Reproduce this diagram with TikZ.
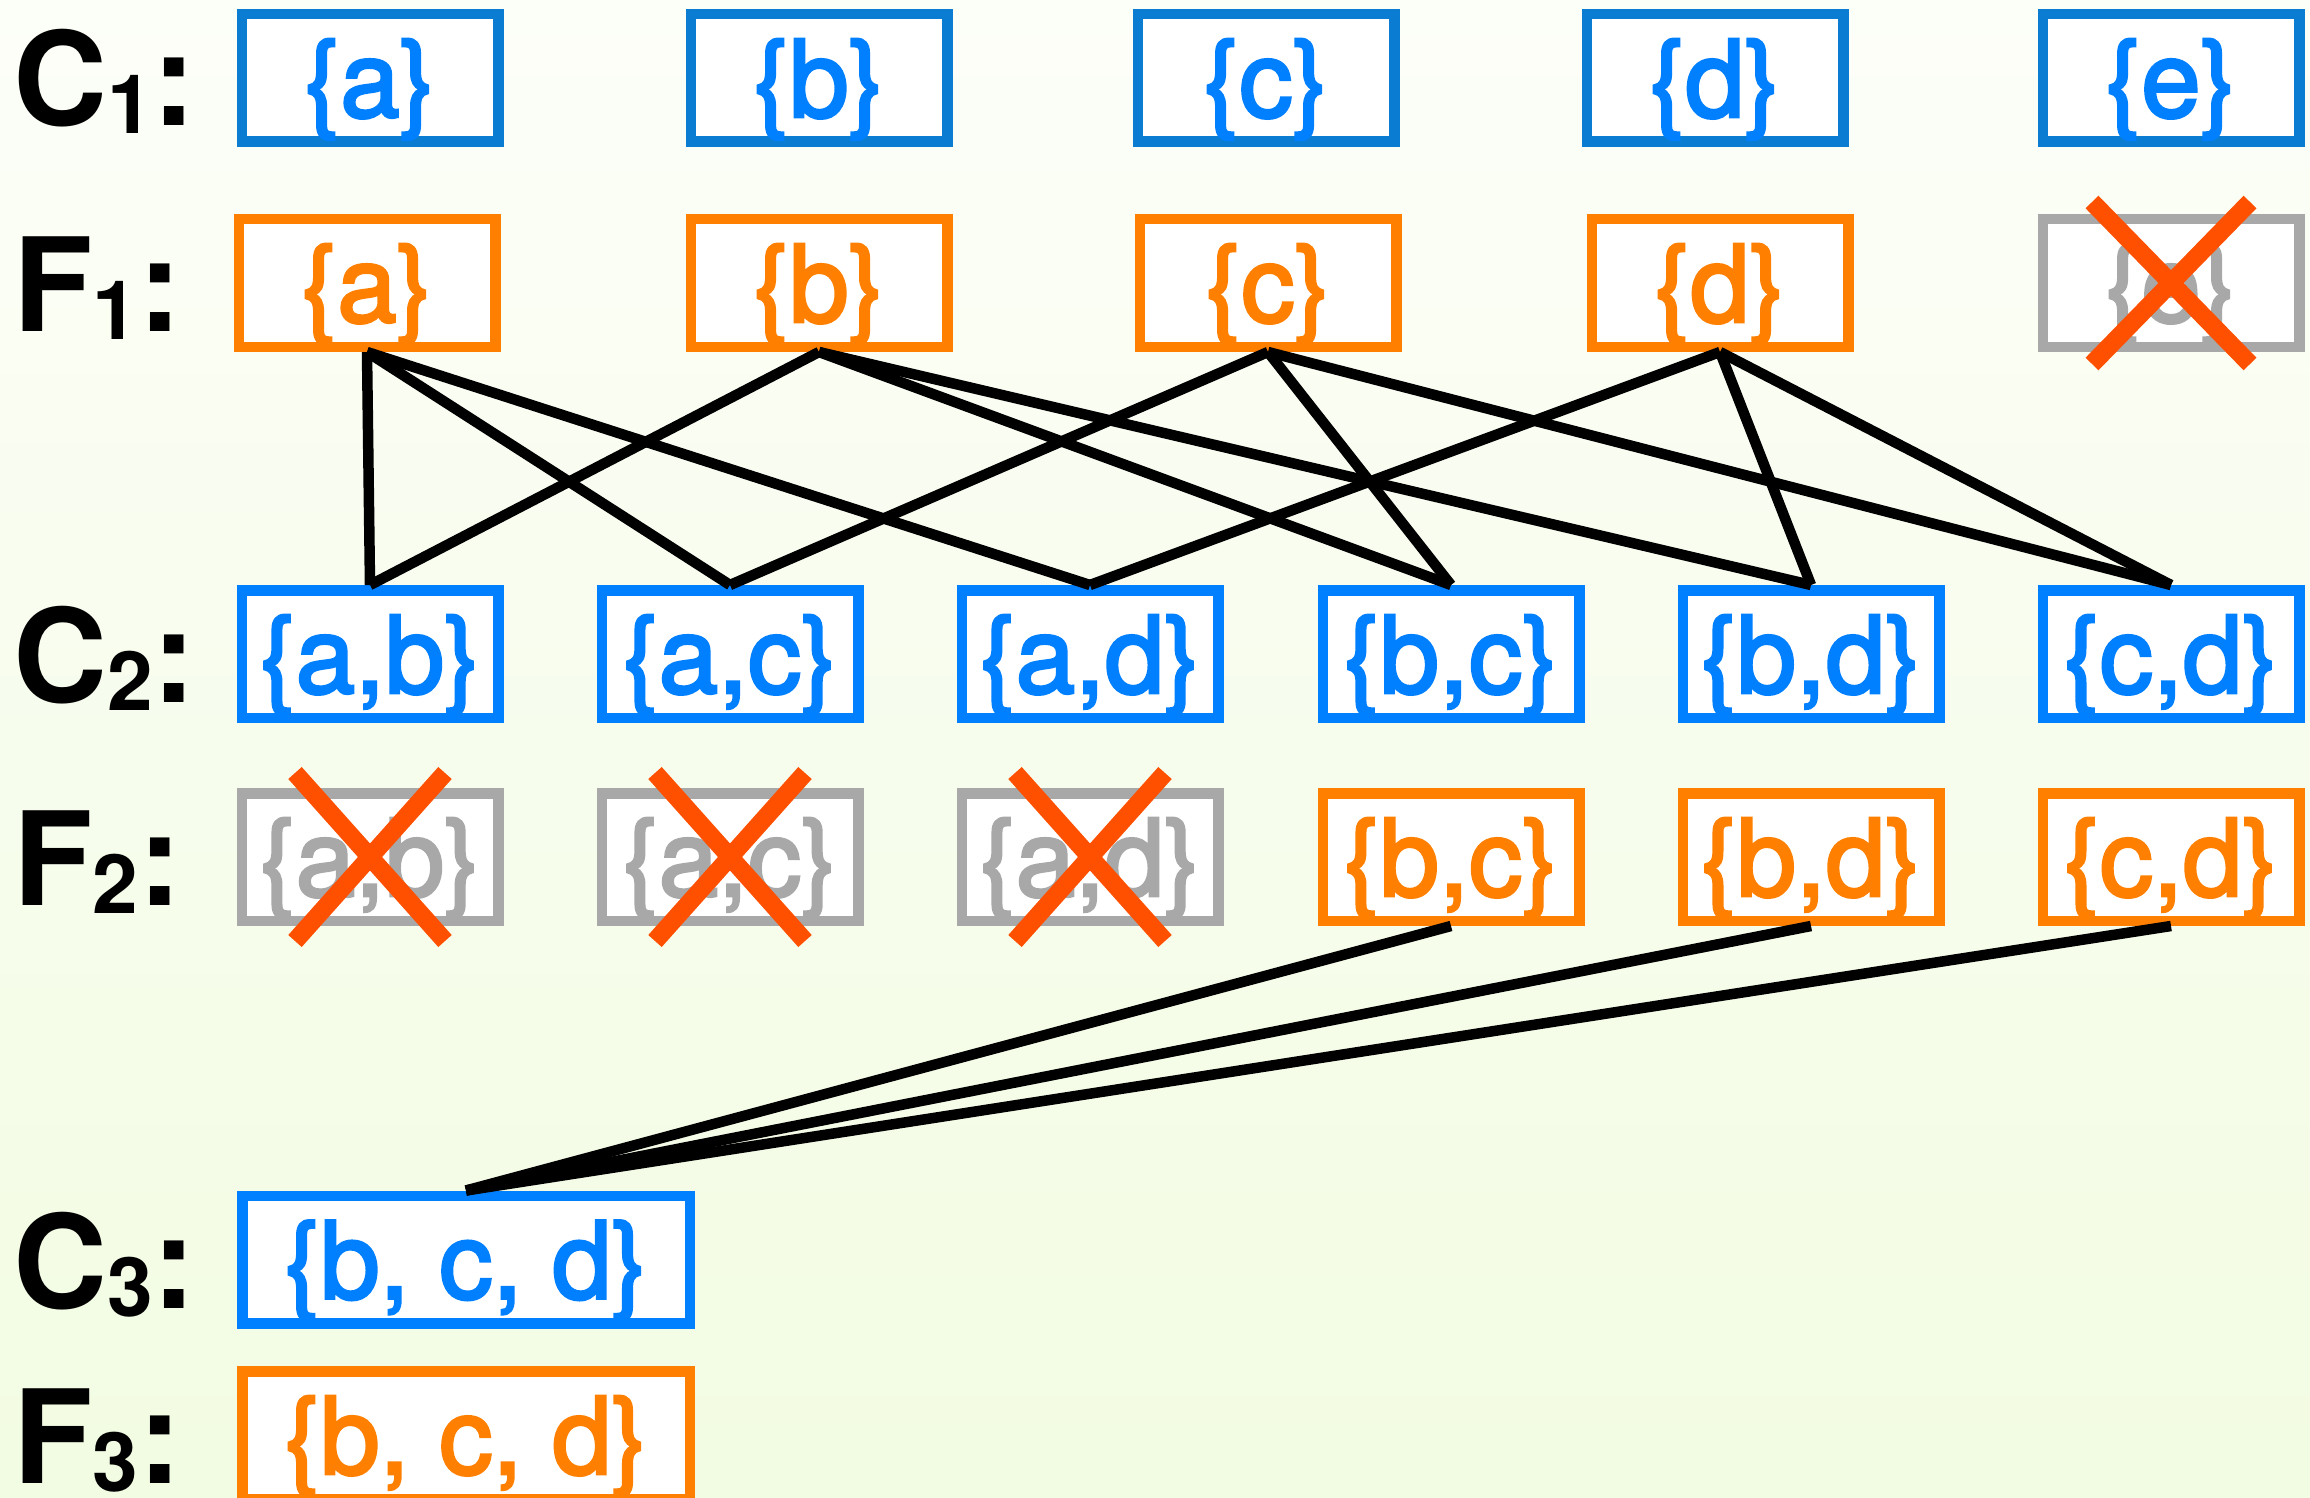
\documentclass[tikz,border=0pt]{standalone}
\usepackage{fontspec}
\setmainfont{TeX Gyre Heros}
\newfontfamily\setfont[FakeBold=2.6]{TeX Gyre Heros}

\definecolor{cblue}{HTML}{0080FF}
\definecolor{cblueedge}{HTML}{0A7CD2}
\definecolor{corange}{HTML}{FF8000}
\definecolor{cgray}{HTML}{A8A8A8}
\definecolor{ccross}{HTML}{FF5000}
\definecolor{bgtop}{HTML}{FCFEF8}
\definecolor{bgbot}{HTML}{F2FCE2}

% row label such as C_1: with a bold lowered index
\newcommand\rowlab[2]{#1\raisebox{-8pt}[0pt][0pt]{\fontsize{82}{90}\selectfont #2}:}

\tikzset{
  setbox/.style={draw, line width=10.5pt, fill=white,
    minimum width=256.5pt, minimum height=127.5pt, inner sep=0pt,
    text height=100pt, text depth=22pt,
    font=\setfont\fontsize{107}{120}\selectfont},
  cand/.style={setbox, draw=cblue, text=cblue},
  candtop/.style={cand, draw=cblueedge},
  freq/.style={setbox, draw=corange, text=corange},
  pruned/.style={setbox, draw=cgray, text=cgray},
  wide/.style={minimum width=447.5pt},
  link/.style={line width=10.5pt, black},
  crossline/.style={line width=18pt, ccross},
  rowlabel/.style={anchor=base west, inner sep=0pt,
    font=\bfseries\fontsize{130}{140}\selectfont},
}

\begin{document}
\begin{tikzpicture}[x=1pt, y=-1pt]
  % background
  \useasboundingbox (0,0) rectangle (2310,1498);
  \clip (0,0) rectangle (2310,1498);
  \shade[top color=bgtop, bottom color=bgbot] (0,0) rectangle (2310,1498);

  % row labels
  \node[rowlabel] (lC1) at (13,126)  {\rowlab{C}{1}};
  \node[rowlabel] (lF1) at (13,331)  {\rowlab{F}{1}};
  \node[rowlabel] (lC2) at (13,702)  {\rowlab{C}{2}};
  \node[rowlabel] (lF2) at (13,905)  {\rowlab{F}{2}};
  \node[rowlabel] (lC3) at (13,1308) {\rowlab{C}{3}};
  \node[rowlabel] (lF3) at (13,1483) {\rowlab{F}{3}};

  % candidate 1-itemsets
  \node[candtop] (cA1) at (370,78)  {\{a\}};
  \node[candtop] (cB1) at (819,78)  {\{b\}};
  \node[candtop] (cC1) at (1266,78) {\{c\}};
  \node[candtop] (cD1) at (1715,78) {\{d\}};
  \node[candtop] (cE1) at (2171,78) {\{e\}};

  % frequent 1-itemsets
  \node[freq]   (fA1) at (367,283)  {\{a\}};
  \node[freq]   (fB1) at (819,283)  {\{b\}};
  \node[freq]   (fC1) at (1268,283) {\{c\}};
  \node[freq]   (fD1) at (1720,283) {\{d\}};
  \node[pruned] (fE1) at (2171,283) {\{e\}};

  % candidate 2-itemsets
  \node[cand] (cAB) at (370,654)  {\{a,b\}};
  \node[cand] (cAC) at (730,654)  {\{a,c\}};
  \node[cand] (cAD) at (1090,654) {\{a,d\}};
  \node[cand] (cBC) at (1451,654) {\{b,c\}};
  \node[cand] (cBD) at (1811,654) {\{b,d\}};
  \node[cand] (cCD) at (2171,654) {\{c,d\}};

  % frequent 2-itemsets
  \node[pruned] (fAB) at (370,857)  {\{a,b\}};
  \node[pruned] (fAC) at (730,857)  {\{a,c\}};
  \node[pruned] (fAD) at (1090,857) {\{a,d\}};
  \node[freq]   (fBC) at (1451,857) {\{b,c\}};
  \node[freq]   (fBD) at (1811,857) {\{b,d\}};
  \node[freq]   (fCD) at (2171,857) {\{c,d\}};

  % 3-itemsets
  \node[cand, wide] (cBCD) at (466,1259.5) {\{b, c, d\}};
  \node[freq, wide] (fBCD) at (466,1435)   {\{b, c, d\}};

  % joins of frequent 1-itemsets
  \draw[link] (fA1.south) -- (cAB.north);
  \draw[link] (fA1.south) -- (cAC.north);
  \draw[link] (fA1.south) -- (cAD.north);
  \draw[link] (fB1.south) -- (cAB.north);
  \draw[link] (fB1.south) -- (cBC.north);
  \draw[link] (fB1.south) -- (cBD.north);
  \draw[link] (fC1.south) -- (cAC.north);
  \draw[link] (fC1.south) -- (cBC.north);
  \draw[link] (fC1.south) -- (cCD.north);
  \draw[link] (fD1.south) -- (cAD.north);
  \draw[link] (fD1.south) -- (cBD.north);
  \draw[link] (fD1.south) -- (cCD.north);

  % joins of frequent 2-itemsets
  \draw[link] (fBC.south) -- (cBCD.north);
  \draw[link] (fBD.south) -- (cBCD.north);
  \draw[link] (fCD.south) -- (cBCD.north);

  % crosses over pruned sets
  \draw[crossline] ([shift={(-79,-81)}]fE1.center) -- ([shift={(79,81)}]fE1.center);
  \draw[crossline] ([shift={(79,-81)}]fE1.center) -- ([shift={(-79,81)}]fE1.center);
  \foreach \n in {fAB,fAC,fAD} {
    \draw[crossline] ([shift={(-75,-84)}]\n.center) -- ([shift={(75,84)}]\n.center);
    \draw[crossline] ([shift={(75,-84)}]\n.center) -- ([shift={(-75,84)}]\n.center);
  }
\end{tikzpicture}
\end{document}
